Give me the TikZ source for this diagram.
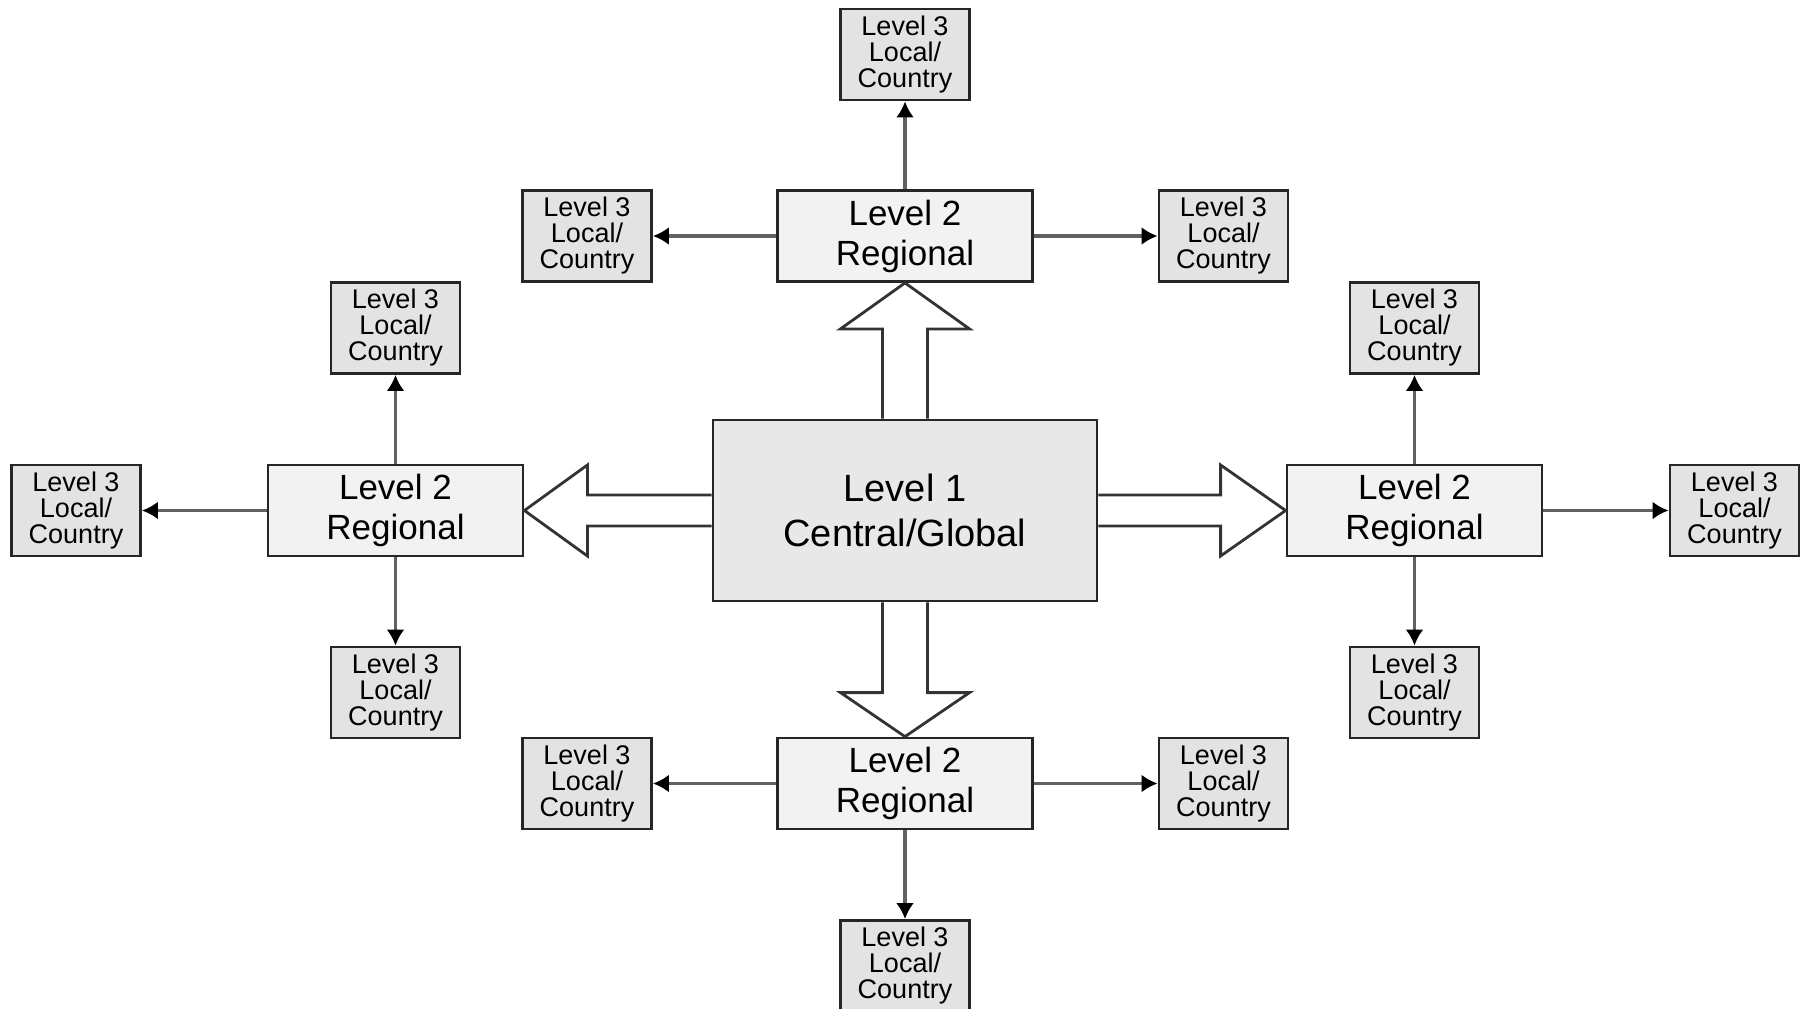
\documentclass[tikz,border=0pt]{standalone}
\usepackage{fontspec}
\setmainfont{Liberation Sans}
\usetikzlibrary{arrows.meta,calc}
\begin{document}
\begin{tikzpicture}[x=1pt,y=-1pt,
  box/.style={draw=black!85, line width=2.8pt, inner sep=0pt, align=center},
  lone/.style={box, fill=black!9, minimum width=384pt, minimum height=181pt, font=\fontsize{38}{45}\selectfont},
  ltwo/.style={box, fill=black!5, minimum width=255pt, minimum height=91pt, font=\fontsize{35}{40}\selectfont},
  lthree/.style={box, fill=black!11, minimum width=129pt, minimum height=91pt, font=\fontsize{27}{26}\selectfont},
  conn/.style={draw=black!62, line width=3.5pt, -{Latex[length=16pt,width=18pt,color=black]}},
  bigarrow/.style={draw=black!80, line width=2.8pt, fill=white, line join=miter}
]
\useasboundingbox (0,0) rectangle (1805,1009);
\fill[white] (0,0) rectangle (1805,1009);

% Level 1
\node[lone] (c) at (905,510.5) {Level 1\\Central/Global};
% Level 2
\node[ltwo] (rt) at (905,236) {Level 2\\Regional};
\node[ltwo] (rb) at (905,783.5) {Level 2\\Regional};
\node[ltwo] (rl) at (395.5,510.5) {Level 2\\Regional};
\node[ltwo] (rr) at (1414.5,510.5) {Level 2\\Regional};
% Level 3
\node[lthree] (tt) at (905,54.5) {Level 3\\Local/\\Country};
\node[lthree] (tl) at (587,236) {Level 3\\Local/\\Country};
\node[lthree] (tr) at (1223.5,236) {Level 3\\Local/\\Country};
\node[lthree] (lt) at (395.5,328) {Level 3\\Local/\\Country};
\node[lthree] (lb) at (395.5,692.5) {Level 3\\Local/\\Country};
\node[lthree] (ll) at (76,510.5) {Level 3\\Local/\\Country};
\node[lthree] (qt) at (1414.5,328) {Level 3\\Local/\\Country};
\node[lthree] (qb) at (1414.5,692.5) {Level 3\\Local/\\Country};
\node[lthree] (qr) at (1734.5,510.5) {Level 3\\Local/\\Country};
\node[lthree] (bl) at (587,783.5) {Level 3\\Local/\\Country};
\node[lthree] (br) at (1223.5,783.5) {Level 3\\Local/\\Country};
\node[lthree] (bb) at (905,966) {Level 3\\Local/\\Country};

% big hollow arrows
\draw[bigarrow] ($(c.north)+(-22.5,0)$) |- ($(rt.south)+(-64.5,46)$) -- (rt.south)
  -- ($(rt.south)+(64.5,46)$) -| ($(c.north)+(22.5,0)$);
\draw[bigarrow] ($(c.south)+(-22.5,0)$) |- ($(rb.north)+(-64.5,-44)$) -- (rb.north)
  -- ($(rb.north)+(64.5,-44)$) -| ($(c.south)+(22.5,0)$);
\draw[bigarrow] ($(c.west)+(0,-15.5)$) -| ($(rl.east)+(63,-45.5)$) -- (rl.east)
  -- ($(rl.east)+(63,45.5)$) |- ($(c.west)+(0,15.5)$);
\draw[bigarrow] ($(c.east)+(0,-15.5)$) -| ($(rr.west)+(-65,-45.5)$) -- (rr.west)
  -- ($(rr.west)+(-65,45.5)$) |- ($(c.east)+(0,15.5)$);

% connectors
\draw[conn] (rt.north) -- (tt.south);
\draw[conn] (rt.west) -- (tl.east);
\draw[conn] (rt.east) -- (tr.west);
\draw[conn] (rl.north) -- (lt.south);
\draw[conn] (rl.south) -- (lb.north);
\draw[conn] (rl.west) -- (ll.east);
\draw[conn] (rr.north) -- (qt.south);
\draw[conn] (rr.south) -- (qb.north);
\draw[conn] (rr.east) -- (qr.west);
\draw[conn] (rb.west) -- (bl.east);
\draw[conn] (rb.east) -- (br.west);
\draw[conn] (rb.south) -- (bb.north);
\end{tikzpicture}
\end{document}
